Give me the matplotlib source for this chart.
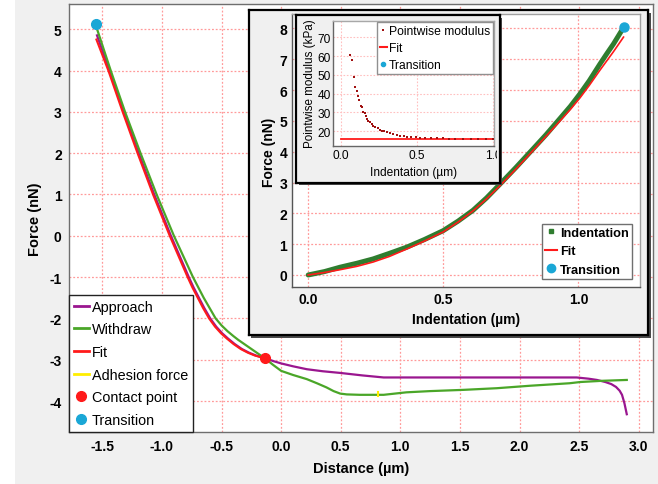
import matplotlib
matplotlib.use('Agg')
import matplotlib.pyplot as plt
from matplotlib.lines import Line2D
from matplotlib.patches import Rectangle
from matplotlib.transforms import Bbox, TransformedBbox

plt.rcParams['font.family'] = ['Liberation Sans', 'DejaVu Sans']
plt.rcParams['axes.unicode_minus'] = False

# ---------------- data ----------------
approach_x = [-1.545, -1.44, -1.32, -1.195, -1.065, -0.925, -0.85, -0.775, -0.735, -0.69, -0.645,
              -0.595, -0.545, -0.495, -0.445, -0.39, -0.33, -0.27, -0.21, -0.17, -0.134, -0.07, 0.0,
              0.1, 0.215, 0.35, 0.495, 0.68, 0.86, 1.33, 2.0, 2.48, 2.58, 2.65, 2.72, 2.77,
              2.81, 2.84, 2.86, 2.88, 2.90]
approach_y = [4.85, 4.0, 3.0, 2.0, 1.0, 0.0, -0.5, -1.0, -1.25, -1.5, -1.75,
              -2.0, -2.2, -2.36, -2.49, -2.62, -2.74, -2.83, -2.9, -2.935, -2.96, -3.03, -3.09,
              -3.16, -3.23, -3.28, -3.32, -3.38, -3.43, -3.43, -3.43, -3.43, -3.46, -3.49, -3.54, -3.59,
              -3.66, -3.75, -3.85, -4.05, -4.32]

withdraw_x = [-1.55, -1.43, -1.31, -1.18, -1.045, -0.9, -0.82, -0.74, -0.695, -0.65, -0.60,
              -0.55, -0.50, -0.45, -0.40, -0.36, -0.30, -0.25, -0.19, -0.134, -0.07, 0.0, 0.1, 0.215,
              0.3, 0.38, 0.44, 0.495, 0.55, 0.66, 0.86, 1.05, 1.25, 1.53, 1.81, 2.09,
              2.42, 2.51, 2.70, 2.90]
withdraw_y = [5.05, 4.0, 3.0, 2.0, 1.0, 0.0, -0.5, -1.0, -1.25, -1.5, -1.75,
              -2.0, -2.17, -2.31, -2.43, -2.52, -2.64, -2.74, -2.86, -2.97, -3.12, -3.27, -3.37, -3.47,
              -3.57, -3.67, -3.76, -3.82, -3.84, -3.85, -3.85, -3.79, -3.76, -3.73, -3.69, -3.63,
              -3.57, -3.54, -3.51, -3.49]

fit_x = [-1.55, -1.45, -1.33, -1.205, -1.075, -0.935, -0.86, -0.785, -0.745, -0.70, -0.655,
         -0.605, -0.555, -0.505, -0.455, -0.40, -0.34, -0.28, -0.22, -0.175, -0.134]
fit_y = [4.75, 4.0, 3.0, 2.0, 1.0, 0.0, -0.5, -1.0, -1.25, -1.5, -1.75,
         -2.0, -2.2, -2.36, -2.49, -2.62, -2.74, -2.83, -2.9, -2.935, -2.96]

adhesion_x = [0.81, 0.81]
adhesion_y = [-3.88, -3.77]
contact_x, contact_y = -0.134, -2.96
transition_x, transition_y = -1.553, 5.12

main_xticks = [-1.5, -1.0, -0.5, 0.0, 0.5, 1.0, 1.5, 2.0, 2.5, 3.0]
main_yticks = [-4, -3, -2, -1, 0, 1, 2, 3, 4, 5]

# inset: indentation
ind_x = [0.0, 0.06, 0.117, 0.18, 0.24, 0.30, 0.364, 0.43, 0.5, 0.555, 0.61, 0.66, 0.71, 0.77,
         0.833, 0.88, 0.932, 0.97, 1.006, 1.04, 1.08, 1.105, 1.13, 1.16]
ind_y = [0.0, 0.11, 0.25, 0.38, 0.52, 0.7, 0.9, 1.15, 1.44, 1.75, 2.1, 2.5, 2.95, 3.5,
         4.1, 4.55, 5.08, 5.47, 5.88, 6.3, 6.85, 7.18, 7.5, 7.93]
indfit_x = [0.0, 0.06, 0.117, 0.18, 0.24, 0.30, 0.364, 0.43, 0.5, 0.555, 0.61, 0.66, 0.71, 0.77,
            0.833, 0.88, 0.932, 0.97, 1.006, 1.04, 1.08, 1.105, 1.13, 1.167]
indfit_y = [0.0, 0.08, 0.17, 0.28, 0.42, 0.6, 0.84, 1.1, 1.4, 1.72, 2.08, 2.47, 2.9, 3.45,
            4.05, 4.5, 5.0, 5.37, 5.75, 6.15, 6.65, 6.95, 7.25, 7.72]
ind_trans_x, ind_trans_y = 1.167, 8.06
ins_xticks = [0.0, 0.5, 1.0]
ins_yticks = [0, 1, 2, 3, 4, 5, 6, 7, 8]

# small inset: pointwise modulus
pm_x = [0.059, 0.07, 0.085, 0.094, 0.103, 0.11, 0.116, 0.129, 0.136, 0.146, 0.155, 0.162,
        0.169, 0.18, 0.19, 0.2, 0.212, 0.225, 0.24, 0.256, 0.27, 0.285, 0.3, 0.32, 0.34,
        0.365, 0.39, 0.41, 0.43, 0.46, 0.49, 0.518, 0.55, 0.59, 0.628, 0.67, 0.71, 0.75,
        0.80, 0.85, 0.90, 0.95, 1.0]
pm_y = [60.7, 58.1, 48.7, 43.4, 41.6, 39.0, 36.6, 33.6, 32.7, 30.4, 29.5, 28.0,
        26.5, 25.6, 24.8, 24.0, 23.0, 22.3, 21.5, 20.9, 20.3, 19.9, 19.5, 19.0, 18.5,
        18.0, 17.6, 17.3, 17.1, 16.8, 16.7, 16.6, 16.5, 16.4, 16.3, 16.2, 16.1, 16.0,
        15.9, 15.9, 15.9, 15.9, 15.9]
pmfit_x = [0.0, 1.0]
pmfit_y = [15.9, 15.9]
pm_xticks = [0.0, 0.5, 1.0]
pm_yticks = [20, 30, 40, 50, 60, 70]

# ---------------- styles ----------------
PURPLE = '#9a168f'
GREEN = '#4aa628'
RED = '#ff1a1a'
YELLOW = '#ffee00'
CYAN = '#1aa7d6'
DKGREEN = '#2f7d2f'
DKRED = '#a01010'
GRID = dict(color='#ff9a9a', linestyle=(0, (1.5, 1.5)), linewidth=0.9)

W, H = 658, 485


def rect(l, t, r, b):
    return [l / W, 1 - b / H, (r - l) / W, (b - t) / H]


fig = plt.figure(figsize=(W / 100, H / 100), dpi=100, facecolor='#f0f0f0')
fig.patches.append(Rectangle((0, 0), 15 / W, 1, transform=fig.transFigure,
                             facecolor='white', edgecolor='none', zorder=-10))

# ---------------- main axes ----------------
ax = fig.add_axes(rect(69, 5, 653, 433), zorder=0)
ax.set_facecolor('white')
ax.plot(approach_x, approach_y, color=PURPLE, lw=1.6, zorder=3)
ax.plot(withdraw_x, withdraw_y, color=GREEN, lw=1.6, zorder=3)
ax.plot(fit_x, fit_y, color=RED, lw=1.5, zorder=4)
ax.plot(adhesion_x, adhesion_y, color=YELLOW, lw=1.5, zorder=5)
ax.plot([contact_x], [contact_y], 'o', color=RED, ms=7, zorder=6)
ax.plot([transition_x], [transition_y], 'o', color=CYAN, ms=7, zorder=6)
ax.set_xlim(-1.78, 3.12)
ax.set_ylim(-4.75, 5.61)
ax.set_xticks(main_xticks)
ax.set_xticklabels([f'{v:.1f}' for v in main_xticks])
ax.set_yticks(main_yticks)
ax.set_yticklabels([str(v) for v in main_yticks])
ax.tick_params(length=0, pad=5.3, labelsize=10)
for lbl in ax.get_xticklabels() + ax.get_yticklabels():
    lbl.set_fontweight('bold')
ax.grid(True, **GRID)
ax.set_axisbelow(True)
for s in ax.spines.values():
    s.set_color('#6e6e6e')
    s.set_linewidth(1.0)

handles = [Line2D([], [], color=PURPLE, lw=2),
           Line2D([], [], color=GREEN, lw=2),
           Line2D([], [], color=RED, lw=2),
           Line2D([], [], color=YELLOW, lw=2),
           Line2D([], [], color=RED, marker='o', ls='none', ms=7),
           Line2D([], [], color=CYAN, marker='o', ls='none', ms=7)]
labels = ['Approach', 'Withdraw', 'Fit', 'Adhesion force', 'Contact point', 'Transition']
leg = ax.legend(handles, labels, loc='lower left', bbox_to_anchor=(0, 0), borderaxespad=0,
                fontsize=10.4, handlelength=1.0, handletextpad=0.25, borderpad=0.35,
                labelspacing=0.6, fancybox=False, framealpha=1, edgecolor='#222222')
leg.get_frame().set_linewidth(1.0)

fig.text(361 / W, 1 - 469 / H, 'Distance (µm)', ha='center', va='center',
         fontsize=10.5, fontweight='bold', zorder=20)
fig.text(35 / W, 1 - 219 / H, 'Force (nN)', ha='center', va='center', rotation=90,
         fontsize=10.5, fontweight='bold', zorder=20)

# ---------------- big inset ----------------
sh1 = fig.add_axes(rect(251.5, 13.5, 650.5, 338.5), zorder=1)
sh1.set_facecolor('#4a4a4a')
sh1.set_xticks([]); sh1.set_yticks([])
for s in sh1.spines.values():
    s.set_visible(False)
fr1 = fig.add_axes(rect(249, 11, 648, 336), zorder=2)
fr1.set_facecolor('#f0f0f0')
fr1.set_xticks([]); fr1.set_yticks([])
for s in fr1.spines.values():
    s.set_color('black'); s.set_linewidth(1.6)

axb = fig.add_axes(rect(292, 15, 640, 288), zorder=3)
axb.set_facecolor('white')
axb.plot(ind_x, ind_y, color=DKGREEN, lw=3.6, solid_capstyle='round', zorder=3)
axb.plot(indfit_x, indfit_y, color=RED, lw=1.2, zorder=4)
axb.plot([ind_trans_x], [ind_trans_y], 'o', color=CYAN, ms=6.5, zorder=5)
axb.set_xlim(-0.06, 1.228)
axb.set_ylim(-0.39, 8.47)
axb.set_xticks(ins_xticks)
axb.set_xticklabels([f'{v:.1f}' for v in ins_xticks])
axb.set_yticks(ins_yticks)
axb.set_yticklabels([str(v) for v in ins_yticks])
axb.tick_params(axis='x', length=0, pad=3.6, labelsize=10)
axb.tick_params(axis='y', length=0, pad=3.4, labelsize=10)
for lbl in axb.get_xticklabels() + axb.get_yticklabels():
    lbl.set_fontweight('bold')
axb.grid(True, **GRID)
axb.set_axisbelow(True)
for k, s in axb.spines.items():
    s.set_linewidth(1.0)
    s.set_color('#555555' if k in ('left', 'bottom') else '#a0a0a0')

hb = [Line2D([], [], color=DKGREEN, marker='s', ls='none', ms=3.5),
      Line2D([], [], color=RED, lw=1.5),
      Line2D([], [], color=CYAN, marker='o', ls='none', ms=6)]
legb = axb.legend(hb, ['Indentation', 'Fit', 'Transition'], loc='lower right',
                  borderaxespad=0.65, prop={'size': 9.2, 'weight': 'bold'},
                  handlelength=0.9, handletextpad=0.25, borderpad=0.25,
                  labelspacing=0.5, fancybox=False, framealpha=1, edgecolor='#707070')
legb.get_frame().set_linewidth(1.0)

fig.text(466 / W, 1 - 320 / H, 'Indentation (µm)', ha='center', va='center',
         fontsize=10, fontweight='bold', zorder=20)
fig.text(268.5 / W, 1 - 152 / H, 'Force (nN)', ha='center', va='center', rotation=90,
         fontsize=10, fontweight='bold', zorder=20)

# ---------------- small inset ----------------
sh2 = fig.add_axes(rect(298.5, 18.5, 502.5, 186), zorder=4)
sh2.set_facecolor('#4a4a4a')
sh2.set_xticks([]); sh2.set_yticks([])
for s in sh2.spines.values():
    s.set_visible(False)
fr2 = fig.add_axes(rect(296, 16, 500, 183.5), zorder=5)
fr2.set_facecolor('#f0f0f0')
fr2.set_xticks([]); fr2.set_yticks([])
for s in fr2.spines.values():
    s.set_color('black'); s.set_linewidth(1.6)

axs = fig.add_axes(rect(332.7, 21.7, 494, 147.3), zorder=6)
axs.set_facecolor('white')
axs.plot(pmfit_x, pmfit_y, color=RED, lw=1.3, zorder=3)
axs.plot(pm_x, pm_y, 's', color=DKRED, ms=1.8, mew=0, zorder=4)
axs.set_xlim(-0.055, 1.004)
axs.set_ylim(12.0, 78.8)
axs.set_xticks(pm_xticks)
axs.set_xticklabels([f'{v:.1f}' for v in pm_xticks])
axs.set_yticks(pm_yticks)
axs.set_yticklabels([str(v) for v in pm_yticks])
axs.tick_params(axis='x', length=0, pad=2.0, labelsize=8.6)
axs.tick_params(axis='y', length=0, pad=1.5, labelsize=8.6)
axs.grid(True, color='#ffc0c0', linestyle=(0, (1.5, 1.5)), linewidth=0.8)
axs.set_axisbelow(True)
for k, s in axs.spines.items():
    s.set_linewidth(1.0)
    s.set_color('#666666' if k in ('left', 'bottom') else '#a8a8a8')

hs = [Line2D([], [], color=DKRED, marker='s', ls='none', ms=1.8, mew=0),
      Line2D([], [], color=RED, lw=1.5),
      Line2D([], [], color=CYAN, marker='o', ls='none', ms=3)]
legs = axs.legend(hs, ['Pointwise modulus', 'Fit', 'Transition'], loc='upper right',
                  borderaxespad=0.1, fontsize=8.7, handlelength=0.55, handletextpad=0.15,
                  borderpad=0.25, labelspacing=0.42, fancybox=False, framealpha=1,
                  edgecolor='#909090')
legs.get_frame().set_linewidth(1.0)

fig.text(414 / W, 1 - 172.7 / H, 'Indentation (µm)', ha='center', va='center',
         fontsize=8.6, zorder=20)
fig.text(310 / W, 1 - 83.5 / H, 'Pointwise modulus (kPa)', ha='center', va='center',
         rotation=90, fontsize=8.4, zorder=20)

fig.canvas.draw()
clip = TransformedBbox(Bbox.from_extents(0, 0, 497 / W, 1), fig.transFigure)
for lbl in axs.get_xticklabels():
    lbl.set_clip_on(True)
    lbl.set_clip_box(clip)

fig.savefig('out.png', dpi=100, facecolor=fig.get_facecolor())
